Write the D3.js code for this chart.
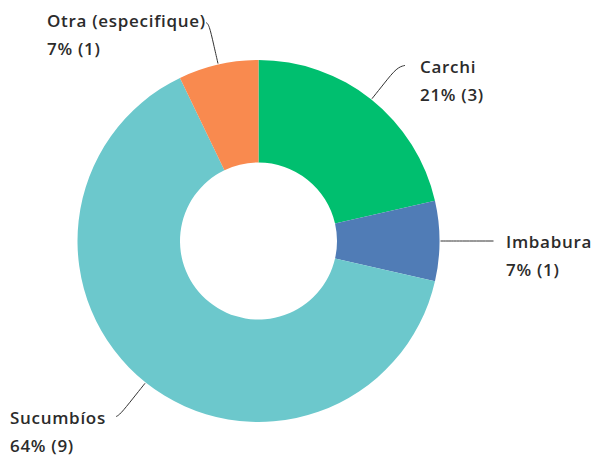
<!DOCTYPE html>
<html>
<head>
<meta charset="utf-8">
<script src="https://cdn.jsdelivr.net/npm/d3@7"></script>
<style>
  body { margin: 0; background: #fff; }
  text { font-family: "Open Sans", Roboto, sans-serif; }
</style>
</head>
<body>
<svg id="chart" width="592" height="457"></svg>
<script>
// data
const categories = ["Carchi", "Imbabura", "Sucumbíos", "Otra (especifique)"];
const counts = [3, 1, 9, 1];
const percentLabels = ["21%", "7%", "64%", "7%"];
const colors = ["#00bf6f", "#507cb6", "#6cc8cc", "#f98a4f"];

const width = 592, height = 457;
const cx = 258.5, cy = 241;
const outerR = 181, innerR = 78.5;

// label placement: where the text block starts and how the leader tail bends
const labelLayout = [
  { x: 420, y: 73, tail: 8 },
  { x: 506, y: 248, tail: 0 },
  { x: 10, y: 424, tail: -4 },
  { x: 47, y: 27, tail: -3 }
];

const rows = categories.map((c, i) => ({ name: c, value: counts[i], pct: percentLabels[i], color: colors[i], layout: labelLayout[i] }));

const svg = d3.select("#chart");
const g = svg.append("g").attr("transform", `translate(${cx}, ${cy})`);

const pie = d3.pie().value(d => d.value).sort(null);
const arc = d3.arc().innerRadius(innerR).outerRadius(outerR);
const arcs = pie(rows);

g.selectAll("path.slice")
  .data(arcs)
  .join("path")
  .attr("class", "slice")
  .attr("d", arc)
  .attr("fill", d => d.data.color);

// leader lines
const polar = (a, r) => [r * Math.sin(a), -r * Math.cos(a)];
const line = d3.line().curve(d3.curveBasis);

g.selectAll("path.leader")
  .data(arcs)
  .join("path")
  .attr("class", "leader")
  .attr("fill", "none")
  .attr("stroke", "#333")
  .attr("stroke-width", 1)
  .attr("d", d => {
    const a = (d.startAngle + d.endAngle) / 2;
    const p0 = polar(a, outerR + 1);
    const pm = polar(a, 202);
    const p1 = polar(a, 222);
    if (d.data.layout.tail === 0) return line([p0, pm, polar(a, 235)]);
    return line([p0, pm, p1, [p1[0] + d.data.layout.tail, p1[1] + (p1[1] < 0 ? -2 : 2)]]);
  });

// labels
const labels = svg.selectAll("text.label")
  .data(rows)
  .join("text")
  .attr("class", "label")
  .attr("x", d => d.layout.x)
  .attr("y", d => d.layout.y)
  .attr("font-size", 17)
  .attr("font-weight", 600)
  .attr("letter-spacing", 0.7)
  .attr("fill", "#2b2b2b");

labels.append("tspan").text(d => d.name);
labels.append("tspan")
  .attr("x", d => d.layout.x)
  .attr("dy", 28)
  .text(d => `${d.pct} (${d.value})`);
</script>
</body>
</html>
